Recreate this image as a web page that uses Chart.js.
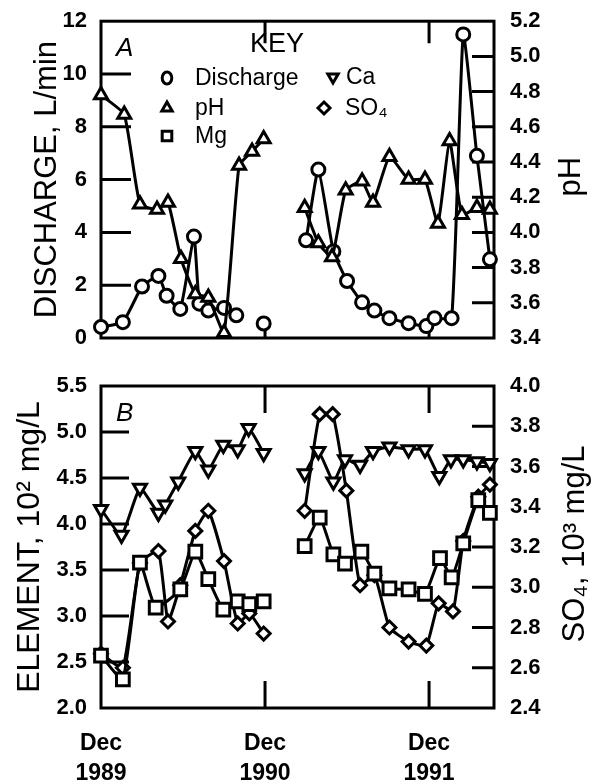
<!DOCTYPE html>
<html>
<head>
<meta charset="utf-8">
<script src="https://cdn.jsdelivr.net/npm/chart.js@4.4.1/dist/chart.umd.min.js"></script>
<style>
  html, body { margin: 0; padding: 0; background: #fff; }
  #wrap { position: relative; width: 592px; height: 784px; }
  canvas { position: absolute; left: 0; }
  #chartA { top: 0; }
  #chartB { top: 360px; }
</style>
</head>
<body>
<div id="wrap">
  <canvas id="chartA" width="592" height="360"></canvas>
  <canvas id="chartB" width="592" height="424"></canvas>
</div>
<script>
// x values are months after Dec 1989; a null value breaks the line
const dischargeMonths = [0, 1.6, 3.0, 4.2, 4.8, 5.8, 6.8, 7.2, 7.85, 9.0, 9.9, 11, 11.9, 13, 15.0, 15.9, 17.0, 18.0, 19.1, 20.0, 21.1, 22.5, 23.8, 24.4, 25.65, 26.5, 27.5, 28.45];
const dischargeValues = [0.42, 0.6, 1.95, 2.35, 1.6, 1.1, 3.84, 1.3, 1.04, 1.14, 0.86, null, 0.55, null, 3.7, 6.38, 3.28, 2.16, 1.35, 1.04, 0.75, 0.56, 0.45, 0.75, 0.75, 11.5, 6.9, 2.98];

const phMonths = [0, 1.7, 2.85, 4.1, 4.9, 5.85, 6.9, 7.85, 9.0, 10.1, 11.05, 11.9, 13, 14.9, 15.9, 16.9, 17.9, 19.1, 19.9, 21.1, 22.5, 23.7, 24.65, 25.5, 26.4, 27.5, 28.45];
const phValues = [4.78, 4.67, 4.16, 4.13, 4.17, 3.85, 3.65, 3.63, 3.43, 4.38, 4.46, 4.53, null, 4.14, 3.94, 3.86, 4.24, 4.29, 4.17, 4.43, 4.30, 4.30, 4.05, 4.52, 4.10, 4.14, 4.13];

const caMonths = [0, 1.5, 2.85, 4.2, 4.7, 5.65, 6.9, 7.85, 8.95, 10.0, 10.8, 11.9, 13, 14.9, 15.9, 17.0, 17.85, 18.95, 19.9, 21.1, 22.5, 23.7, 24.75, 25.6, 26.5, 27.5, 28.45];
const caValues = [4.16, 3.88, 4.39, 4.12, 4.21, 4.46, 4.79, 4.59, 4.86, 4.81, 5.04, 4.77, null, 4.55, 4.79, 4.46, 4.70, 4.64, 4.79, 4.84, 4.81, 4.81, 4.52, 4.70, 4.70, 4.68, 4.66];

const mgMonths = [0, 1.6, 2.85, 4.0, 5.8, 6.9, 7.85, 8.95, 10.0, 10.85, 11.9, 13, 14.9, 16.0, 17.0, 17.85, 19.05, 20.0, 21.1, 22.5, 23.7, 24.8, 25.65, 26.5, 27.6, 28.45];
const mgValues = [2.57, 2.31, 3.58, 3.09, 3.29, 3.70, 3.40, 3.07, 3.16, 3.13, 3.16, null, 3.76, 4.07, 3.67, 3.57, 3.70, 3.46, 3.30, 3.29, 3.24, 3.63, 3.42, 3.79, 4.26, 4.12];

const so4Months = [0, 1.6, 2.85, 4.2, 4.9, 5.8, 6.9, 7.85, 9.0, 10.0, 10.85, 11.9, 13, 14.9, 16.0, 16.95, 17.95, 18.95, 20.0, 21.1, 22.5, 23.8, 24.7, 25.75, 26.5, 27.6, 28.45];
const so4Values = [2.67, 2.60, 3.12, 3.18, 2.83, 3.01, 3.28, 3.38, 3.13, 2.82, 2.87, 2.77, null, 3.38, 3.86, 3.86, 3.48, 3.01, 3.06, 2.80, 2.73, 2.71, 2.92, 2.88, 3.23, 3.45, 3.51];

const xTickMonths = [0, 12, 24];
const xTickLabels = [['Dec', '1989'], ['Dec', '1990'], ['Dec', '1991']];
const xMax = 28.75;

Chart.defaults.font.family = "'Liberation Sans', Arial, Helvetica, sans-serif";
Chart.defaults.color = '#000';

const pts = (xs, ys) => xs.map((x, i) => ({ x: x, y: ys[i] }));

function series(label, data, axis, style, radius, rotation) {
    return {
        label: label,
        data: data,
        yAxisID: axis,
        borderColor: '#000',
        borderWidth: 3,
        pointStyle: style,
        pointRadius: radius,
        pointRotation: rotation || 0,
        pointBorderWidth: 3,
        pointBorderColor: '#000',
        pointBackgroundColor: '#fff',
        tension: 0.15,
        spanGaps: false,
        clip: false
    };
}

function yAxis(pos, min, max, step, digits, width, pad) {
    return {
        type: 'linear', position: pos, min: min, max: max,
        grid: { display: false }, border: { display: false },
        ticks: { stepSize: step, padding: pad, font: { size: 22, weight: 'bold' }, color: '#000',
                 callback: v => Number(v).toFixed(digits) },
        afterFit: s => { s.width = width; }
    };
}

// frame plus short inward ticks, placed through the chart's scales
const frameTicks = {
    id: 'frameTicks',
    beforeDatasetsDraw(chart, args, o) {
        const { ctx, chartArea: a, scales } = chart;
        const inner = (s, v) => v > s.min + 1e-6 && v < s.max - 1e-6;
        ctx.save();
        ctx.strokeStyle = '#000';
        ctx.lineWidth = 3;
        ctx.strokeRect(a.left, a.top, a.right - a.left, a.bottom - a.top);
        ctx.beginPath();
        scales.y.ticks.forEach(t => {
            if (!inner(scales.y, t.value)) return;
            const py = scales.y.getPixelForValue(t.value);
            ctx.moveTo(a.left, py); ctx.lineTo(a.left + o.leftLen, py);
        });
        scales.y1.ticks.forEach(t => {
            if (!inner(scales.y1, t.value)) return;
            const py = scales.y1.getPixelForValue(t.value);
            ctx.moveTo(a.right - o.rightLen, py); ctx.lineTo(a.right, py);
        });
        xTickMonths.forEach(m => {
            if (!inner(scales.x, m)) return;
            const px = scales.x.getPixelForValue(m);
            ctx.moveTo(px, a.top); ctx.lineTo(px, a.top + o.xLen);
            ctx.moveTo(px, a.bottom); ctx.lineTo(px, a.bottom - o.xLen);
        });
        ctx.stroke();
        ctx.restore();
    }
};

function symbol(ctx, kind, x, y, r) {
    ctx.beginPath();
    if (kind === 'circle') {
        ctx.ellipse(x, y, r * 0.8, r, 0, 0, Math.PI * 2);
    } else if (kind === 'up' || kind === 'down') {
        const d = kind === 'up' ? 1 : -1;
        ctx.moveTo(x, y - d * r);
        ctx.lineTo(x + r * 0.866, y + d * r * 0.5);
        ctx.lineTo(x - r * 0.866, y + d * r * 0.5);
        ctx.closePath();
    } else if (kind === 'square') {
        ctx.rect(x - r * 0.8, y - r * 0.8, r * 1.6, r * 1.6);
    } else {
        ctx.moveTo(x, y - r); ctx.lineTo(x + r, y); ctx.lineTo(x, y + r); ctx.lineTo(x - r, y);
        ctx.closePath();
    }
    ctx.stroke();
}

const deco = {
    id: 'deco',
    afterDraw(chart, args, o) {
        const { ctx, chartArea: a } = chart;
        const fam = Chart.defaults.font.family;
        ctx.save();
        ctx.fillStyle = '#000';
        ctx.strokeStyle = '#000';
        // panel letter
        ctx.font = 'italic 26px ' + fam;
        ctx.textAlign = 'left';
        ctx.textBaseline = 'middle';
        ctx.fillText(o.letter, a.left + 15, a.top + 28);
        // right axis title, reading upwards
        ctx.save();
        ctx.translate(o.titleX, (a.top + a.bottom) / 2 - 3);
        ctx.rotate(-Math.PI / 2);
        ctx.textAlign = 'center';
        ctx.font = '31px ' + fam;
        ctx.fillText(o.rightTitle, 0, 0);
        ctx.restore();
        if (o.key) {
            ctx.font = '27px ' + fam;
            ctx.textAlign = 'center';
            ctx.fillText('KEY', 277, 45);
            ctx.font = '23px ' + fam;
            ctx.textAlign = 'left';
            ctx.lineWidth = 3;
            const rows = [
                ['circle', 167, 78, 'Discharge', 195],
                ['up', 167, 108, 'pH', 195],
                ['square', 167, 136, 'Mg', 195],
                ['down', 333, 77, 'Ca', 346],
                ['diamond', 324, 108, 'SO\u2084', 345]
            ];
            rows.forEach(r => {
                symbol(ctx, r[0], r[1], r[2], 6);
                ctx.fillText(r[3], r[4], r[2] + 1);
            });
        }
        ctx.restore();
    }
};

new Chart(document.getElementById('chartA'), {
    type: 'line',
    data: {
        datasets: [
            series('pH', pts(phMonths, phValues), 'y1', 'triangle', 7.5),
            series('Discharge', pts(dischargeMonths, dischargeValues), 'y', 'circle', 6.5)
        ]
    },
    options: {
        responsive: false,
        devicePixelRatio: 1,
        animation: false,
        layout: { padding: { top: 16, bottom: 22, left: 0, right: 0 } },
        scales: {
            x: { type: 'linear', min: 0, max: xMax, display: false },
            y: Object.assign(yAxis('left', 0, 12, 2, 0, 101, 6), {
                title: { display: true, text: 'DISCHARGE, L/min', font: { size: 31 }, color: '#000', padding: { top: 29, bottom: 0 } }
            }),
            y1: yAxis('right', 3.4, 5.2, 0.2, 1, 98, 8)
        },
        plugins: {
            legend: { display: false },
            tooltip: { enabled: false },
            frameTicks: { leftLen: 30, rightLen: 22, xLen: 22 },
            deco: { letter: 'A', rightTitle: 'pH', titleX: 571, key: true }
        }
    },
    plugins: [frameTicks, deco]
});

new Chart(document.getElementById('chartB'), {
    type: 'line',
    data: {
        datasets: [
            series('Ca', pts(caMonths, caValues), 'y', 'triangle', 7.5, 180),
            series('Mg', pts(mgMonths, mgValues), 'y', 'rect', 9),
            series('SO4', pts(so4Months, so4Values), 'y1', 'rectRot', 6.5)
        ]
    },
    options: {
        responsive: false,
        devicePixelRatio: 1,
        animation: false,
        layout: { padding: { top: 26, bottom: 0, left: 0, right: 0 } },
        scales: {
            x: {
                type: 'linear', min: 0, max: xMax,
                grid: { display: false }, border: { display: false },
                afterBuildTicks: s => { s.ticks = xTickMonths.map(v => ({ value: v })); },
                ticks: { autoSkip: false, maxRotation: 0, padding: 13, font: { size: 23, weight: 'bold', lineHeight: 1.3 }, color: '#000',
                         callback: (v, i) => xTickLabels[i] },
                afterFit: s => { s.height = 76; }
            },
            y: Object.assign(yAxis('left', 2.0, 5.5, 0.5, 1, 101, 6), {
                title: { display: true, text: 'ELEMENT, 10\u00B2 mg/L', font: { size: 32 }, color: '#000', padding: { top: 11, bottom: 0 } }
            }),
            y1: yAxis('right', 2.4, 4.0, 0.2, 1, 98, 8)
        },
        plugins: {
            legend: { display: false },
            tooltip: { enabled: false },
            frameTicks: { leftLen: 28, rightLen: 22, xLen: 27 },
            deco: { letter: 'B', rightTitle: 'SO\u2084, 10\u00B3 mg/L', titleX: 575, key: false }
        }
    },
    plugins: [frameTicks, deco]
});
</script>
</body>
</html>
